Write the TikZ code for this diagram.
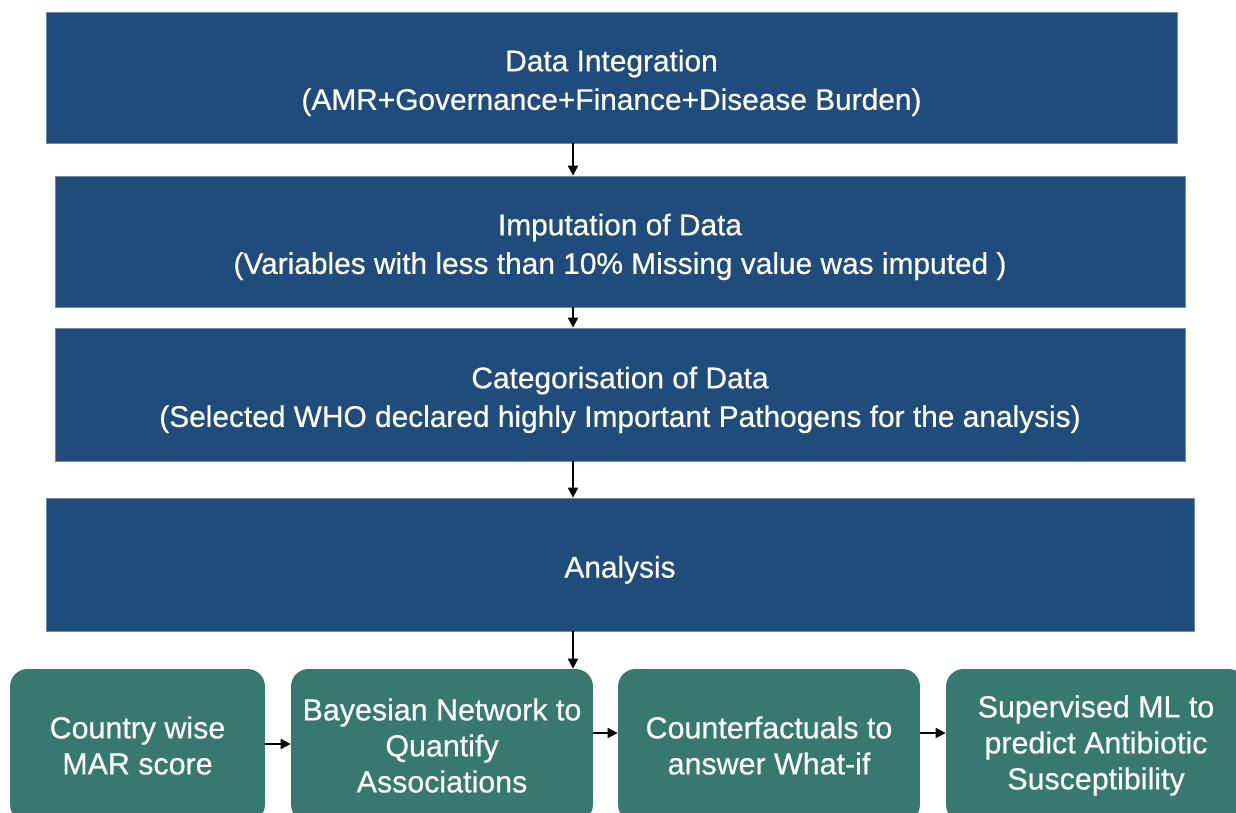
\documentclass[tikz,border=0pt]{standalone}
\usepackage{fontspec}
\setmainfont{Liberation Sans}[FakeBold=0.5]
\usetikzlibrary{arrows.meta}
\definecolor{stepblue}{HTML}{1F4C7B}
\definecolor{stepteal}{HTML}{377971}
\newcommand{\lowr}{\rule{0pt}{18.4pt}}
\begin{document}
\begin{tikzpicture}[x=0.02cm,y=-0.02cm,
    blk/.style={fill=stepblue,draw=stepblue!65!white,line width=0.4pt,inner sep=0pt,text=white,align=center,
        font=\fontsize{17}{22}\selectfont},
    mdl/.style={fill=stepteal,rounded corners=0.35cm,inner sep=0pt,text=white,align=center,
        minimum height=3.06cm,font=\fontsize{17.3}{20.5}\selectfont},
    arr/.style={-{Triangle[length=2mm,width=2mm]},line width=1pt}]
        \clip (0,0) rectangle (1236,813);
        \fill[white] (0,0) rectangle (1236,813);
        % pipeline
        \node[blk,minimum width=22.62cm,minimum height=2.62cm] (integ) at (611.5,77.5)
            {\lowr Data Integration\\(AMR+Governance+Finance+Disease Burden)};
        \node[blk,minimum width=22.6cm,minimum height=2.62cm] (imput) at (620,241.5)
            {\lowr Imputation of Data\\(Variables with less than 10\% Missing value was imputed )};
        \node[blk,minimum width=22.6cm,minimum height=2.66cm] (categ) at (620,394.5)
            {\lowr Categorisation of Data\\(Selected WHO declared highly Important Pathogens for the analysis)};
        \node[blk,minimum width=22.96cm,minimum height=2.66cm] (analy) at (620,564.5) {\lowr Analysis};
        % methods
        \node[mdl,minimum width=5.1cm] (marsc) at (137.5,745.5) {Country wise\\MAR score};
        \node[mdl,minimum width=6.04cm] (bayes) at (442,745.5) {Bayesian Network to\\Quantify\\Associations};
        \node[mdl,minimum width=6.04cm] (cfact) at (769,745.5) {Counterfactuals to\\answer What-if};
        \node[mdl,minimum width=6cm] (super) at (1096,745.5) {Supervised ML to\\predict Antibiotic\\Susceptibility};
        \coordinate (mid) at (573,0);
        \coordinate (lo) at (0,744);
        \coordinate (hi) at (0,733);
        \draw[arr] (integ.south -| mid) -- (imput.north -| mid);
        \draw[arr] (imput.south -| mid) -- (categ.north -| mid);
        \draw[arr] (categ.south -| mid) -- (analy.north -| mid);
        \draw[arr] (analy.south -| mid) -- (bayes.north -| mid);
        \draw[arr] (marsc.east |- lo) -- (bayes.west |- lo);
        \draw[arr] (bayes.east |- hi) -- (cfact.west |- hi);
        \draw[arr] (cfact.east |- hi) -- (super.west |- hi);
    \end{tikzpicture}
\end{document}
